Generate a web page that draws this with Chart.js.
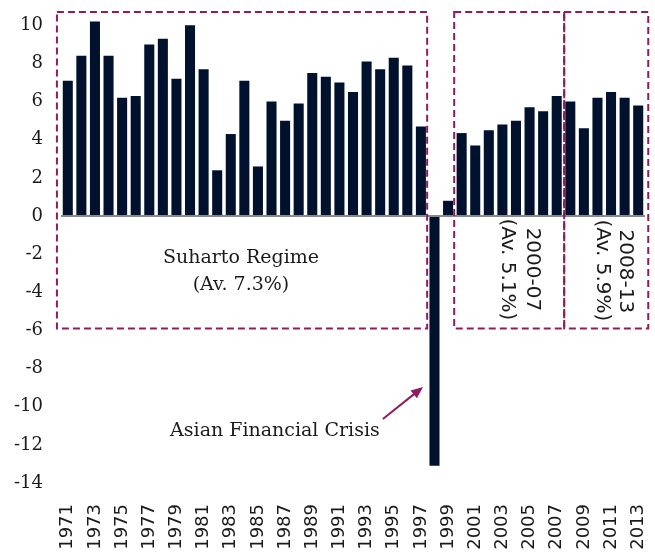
<!DOCTYPE html>
<html lang="en">

<head>
    <meta charset="UTF-8">
    <title>Indonesia GDP growth 1971-2013</title>
    <script src="https://cdn.jsdelivr.net/npm/chart.js"></script>
    <style>
        body { margin: 0; background: #fff; }
        .chart-container { width: 655px; height: 555px; position: relative; }
    </style>
</head>

<body>
    <div class="chart-container">
        <canvas id="gdpChart"></canvas>
    </div>

    <script>
        // anys i creixement del PIB (%)
        const years = [];
        for (let y = 1971; y <= 2013; y++) years.push(String(y));

        const growth = [
            7.1, 8.4, 10.2, 8.4, 6.2, 6.3, 9.0, 9.3, 7.2, 10.0,
            7.7, 2.4, 4.3, 7.1, 2.6, 6.0, 5.0, 5.9, 7.5, 7.3,
            7.0, 6.5, 8.1, 7.7, 8.3, 7.9, 4.7, -13.1, 0.8, 4.35,
            3.7, 4.5, 4.8, 5.0, 5.7, 5.5, 6.3, 6.0, 4.6, 6.2,
            6.5, 6.2, 5.8
        ];

        const yTicks = [-14, -12, -10, -8, -6, -4, -2, 0, 2, 4, 6, 8, 10];

        // caixes dels periodes (index inicial, index final)
        const periodBoxes = [[-0.8, 26.46], [28.45, 36.55], [36.55, 42.74]];
        const boxBottom = -5.9;

        const maroon = '#8e1c5e';

        // anotacions: [text, x (index), y (valor), rotat]
        const notes = [
            ['Suharto Regime', 12.75, -2.2, false],
            ['(Av. 7.3%)', 12.75, -3.6, false],
            ['2000-07', 34.2, -2.8, true],
            ['(Av. 5.1%)', 32.35, -2.8, true],
            ['2008-13', 41.05, -2.9, true],
            ['(Av. 5.9%)', 39.35, -2.85, true],
            ['Asian Financial Crisis', 15.25, -11.3, false]
        ];
        const arrowFrom = [23.2, -10.64];
        const arrowTo = [26.16, -8.96];

        const annotationsPlugin = {
            id: 'annotations',
            afterDatasetsDraw(chart) {
                const ctx = chart.ctx;
                const xs = chart.scales.x;
                const ys = chart.scales.y;
                const top = chart.chartArea.top;

                ctx.save();
                //caixes discontinues
                ctx.strokeStyle = maroon;
                ctx.lineWidth = 2;
                ctx.setLineDash([7, 4]);
                periodBoxes.forEach(b => {
                    const x1 = xs.getPixelForValue(b[0]);
                    const x2 = xs.getPixelForValue(b[1]);
                    const y2 = ys.getPixelForValue(boxBottom);
                    ctx.strokeRect(x1, top, x2 - x1, y2 - top);
                });
                ctx.setLineDash([]);

                // textos
                ctx.fillStyle = '#1a1a1a';
                ctx.textAlign = 'center';
                ctx.textBaseline = 'middle';
                notes.forEach(n => {
                    const px = xs.getPixelForValue(n[1]);
                    const py = ys.getPixelForValue(n[2]);
                    if (n[3]) {
                        ctx.save();
                        ctx.font = '20px "DejaVu Sans"';
                        ctx.translate(px, py);
                        ctx.rotate(Math.PI / 2);
                        ctx.fillText(n[0], 0, 0);
                        ctx.restore();
                    } else {
                        ctx.font = '19px "DejaVu Serif"';
                        ctx.fillText(n[0], px, py);
                    }
                });

                // fletxa
                const ax = xs.getPixelForValue(arrowFrom[0]);
                const ay = ys.getPixelForValue(arrowFrom[1]);
                const bx = xs.getPixelForValue(arrowTo[0]);
                const by = ys.getPixelForValue(arrowTo[1]);
                const ang = Math.atan2(by - ay, bx - ax);
                const head = 13;
                ctx.strokeStyle = maroon;
                ctx.fillStyle = maroon;
                ctx.lineWidth = 2;
                ctx.beginPath();
                ctx.moveTo(ax, ay);
                ctx.lineTo(bx - Math.cos(ang) * head * 0.8, by - Math.sin(ang) * head * 0.8);
                ctx.stroke();
                ctx.beginPath();
                ctx.moveTo(bx, by);
                ctx.lineTo(bx - head * Math.cos(ang - 0.4), by - head * Math.sin(ang - 0.4));
                ctx.lineTo(bx - head * Math.cos(ang + 0.4), by - head * Math.sin(ang + 0.4));
                ctx.closePath();
                ctx.fill();
                ctx.restore();
            }
        };

        const ctx = document.getElementById('gdpChart').getContext('2d');
        const chart = new Chart(ctx, {
            type: 'bar',
            data: {
                labels: years,
                datasets: [{
                    label: 'GDP growth',
                    data: growth,
                    backgroundColor: '#00112e',
                    borderWidth: 0,
                    barPercentage: 0.74,
                    categoryPercentage: 1
                }]
            },
            options: {
                responsive: true,
                maintainAspectRatio: false,
                animation: false,
                layout: { padding: { top: 12, right: 10, left: 0, bottom: 0 } },
                plugins: {
                    legend: { display: false },
                    tooltip: { enabled: false }
                },
                scales: {
                    x: {
                        grid: { display: false },
                        border: { display: false },
                        afterFit: scale => {
                            scale.height = 72;
                            scale.paddingLeft = 0;
                            scale.paddingRight = 0;
                        },
                        ticks: {
                            autoSkip: false,
                            minRotation: 90,
                            maxRotation: 90,
                            padding: 13,
                            color: '#1a1a1a',
                            font: { family: 'DejaVu Sans', size: 18 },
                            callback: function (val, i) {
                                return i % 2 === 0 ? this.getLabelForValue(val) : '';
                            }
                        }
                    },
                    y: {
                        min: -14,
                        max: 10.7,
                        afterBuildTicks: scale => {
                            scale.ticks = yTicks.map(v => ({ value: v }));
                        },
                        afterFit: scale => {
                            scale.width = 61;
                            scale.paddingTop = 0;
                            scale.paddingBottom = 0;
                        },
                        grid: {
                            drawTicks: false,
                            lineWidth: 2,
                            color: c => c.tick && c.tick.value === 0 ? '#8a8a8a' : 'transparent'
                        },
                        border: { display: false },
                        ticks: {
                            padding: 18,
                            color: '#1a1a1a',
                            font: { family: 'DejaVu Serif', size: 18 }
                        }
                    }
                }
            },
            plugins: [annotationsPlugin]
        });
    </script>
</body>

</html>
